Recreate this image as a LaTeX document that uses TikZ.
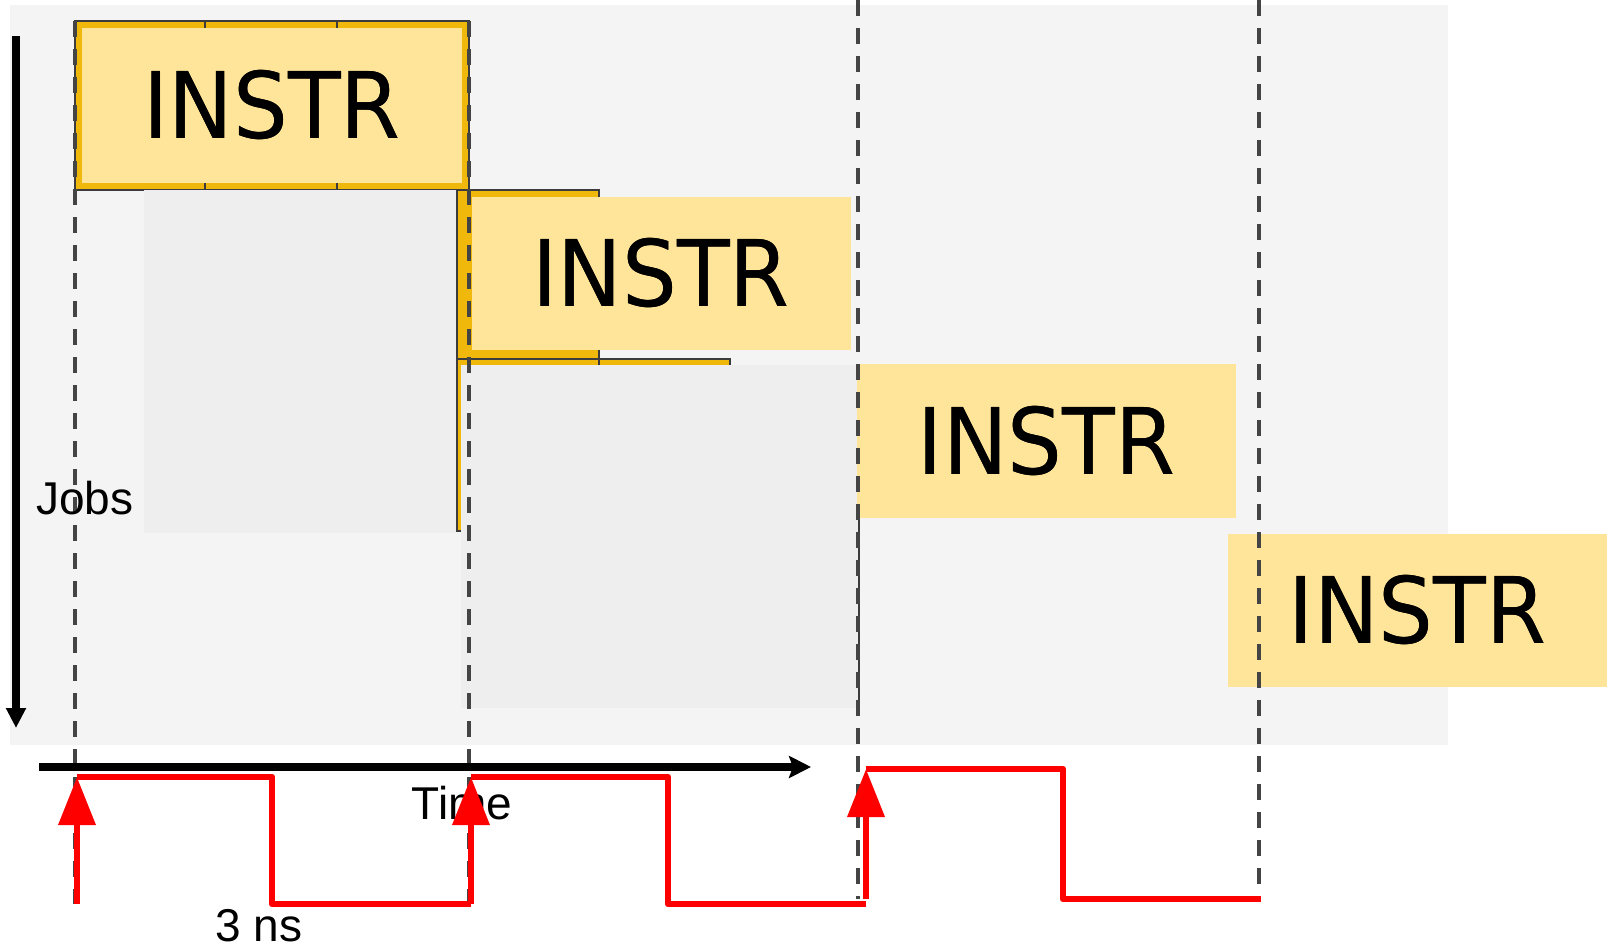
\documentclass[tikz,border=0pt]{standalone}
\usepackage{fontspec}
\setmainfont{Liberation Sans}
\newfontfamily\instrfont[FakeStretch=0.94]{DejaVu Sans}
\usetikzlibrary{arrows.meta}

\definecolor{bggray}{HTML}{F4F4F4}
\definecolor{panelgray}{HTML}{EEEEEE}
\definecolor{instryellow}{HTML}{FFE599}
\definecolor{stageorange}{HTML}{F1B80C}
\definecolor{edgegray}{HTML}{3C3C3C}
\definecolor{dashgray}{HTML}{444444}
\definecolor{clockred}{HTML}{FF0000}

\begin{document}
\begin{tikzpicture}[
    x=0.5pt, y=-0.5pt,
    stagecell/.style={draw=edgegray, fill=stageorange, line width=1pt},
    panel/.style={fill=panelgray},
    instrbox/.style={fill=instryellow, inner sep=0pt, minimum width=189.5pt, minimum height=76.5pt,
        font=\instrfont\fontsize{46}{50}\selectfont},
    axislbl/.style={inner sep=0pt, font=\fontsize{23}{27}\selectfont},
    cycleline/.style={draw=dashgray, line width=2pt, dash pattern=on 8pt off 6pt},
    axis/.style={-{Stealth[length=11pt, width=11pt, inset=2pt]}, line width=3.6pt},
    jobaxis/.style={-{Triangle[length=10pt, width=9.5pt]}, line width=3.6pt},
    clock/.style={draw=clockred, line width=3.4pt, line join=round},
    rise/.style={clock, -{Triangle[length=24pt, width=18pt]}}
]
\useasboundingbox (0,0) rectangle (1610,951);
\fill[white] (0,0) rectangle (1610,951);
\fill[bggray] (10,5) rectangle (1448,745);

% Pipeline stages behind the instructions
\draw[stagecell] (75,21) rectangle (205,190);
\draw[stagecell] (205,21) rectangle (337,190);
\draw[stagecell] (337,21) rectangle (469,190);
\draw[stagecell] (457,190) rectangle (599,359);
\draw[stagecell] (457,359) rectangle (599,531);
\draw[stagecell] (599,359) rectangle (730,531);
\draw[edgegray, line width=1pt] (859,518) -- (859,700);

% Greyed-out areas
\fill[panel] (144,190) rectangle (456,533);
\fill[panel] (461,365) rectangle (858,708);

% Instructions
\node[instrbox, minimum width=190pt, minimum height=77.5pt] (instr1) at (272,105.5) {INSTR};
\node[instrbox] (instr2) at (661,273.5) {INSTR};
\node[instrbox] (instr3) at (1046.5,441) {INSTR};
\node[instrbox] (instr4) at (1417.5,610.5) {INSTR};

% Clock cycle boundaries
\coordinate (cyc1top) at (75,21);   \coordinate (cyc1bot) at (75,904);
\coordinate (cyc2top) at (469,21);  \coordinate (cyc2bot) at (469,904);
\coordinate (cyc3top) at (858,0);   \coordinate (cyc3bot) at (858,899);
\coordinate (cyc4top) at (1259,0);  \coordinate (cyc4bot) at (1259,899);
\draw[cycleline] (cyc1top) -- (cyc1bot);
\draw[cycleline] (cyc2top) -- (cyc2bot);
\draw[cycleline] (cyc3top) -- (cyc3bot);
\draw[cycleline] (cyc4top) -- (cyc4bot);

% Redraw the texts above the dashes
\node[instrbox, fill=none] at (instr1) {INSTR};
\node[instrbox, fill=none] at (instr2) {INSTR};
\node[instrbox, fill=none] at (instr3) {INSTR};
\node[instrbox, fill=none] at (instr4) {INSTR};

% Axes
\coordinate (jobstart) at (16,36);
\coordinate (jobend) at (16,728);
\coordinate (timestart) at (39,767);
\coordinate (timeend) at (811,767);
\draw[jobaxis] (jobstart) -- (jobend);
\draw[axis] (timestart) -- (timeend);
\node[axislbl] (jobs) at (85,498) {Jobs};
\node[axislbl] (time) at (462,803) {Time};
\node[axislbl] (period) at (259,926) {3 ns};

% Clock signal
\coordinate (r1lo) at (77,904);   \coordinate (r1hi) at (77,777);
\coordinate (f1lo) at (272,904);
\coordinate (r2lo) at (471,904);  \coordinate (r2hi) at (471,777);
\coordinate (f2lo) at (668,904);
\coordinate (w2end) at (866,904);
\coordinate (r3lo) at (866,899);  \coordinate (r3hi) at (866,769);
\coordinate (f3lo) at (1063,899);
\coordinate (w3end) at (1261,899);

\draw[clock] (r1hi) -| (f1lo) -- (r2lo);
\draw[clock] (r2hi) -| (f2lo) -- (w2end);
\draw[clock] (r3hi) -| (f3lo) -- (w3end);
\draw[rise] (r1lo) -- (r1hi);
\draw[rise] (r2lo) -- (r2hi);
\draw[rise] (r3lo) -- (r3hi);

\end{tikzpicture}
\end{document}
